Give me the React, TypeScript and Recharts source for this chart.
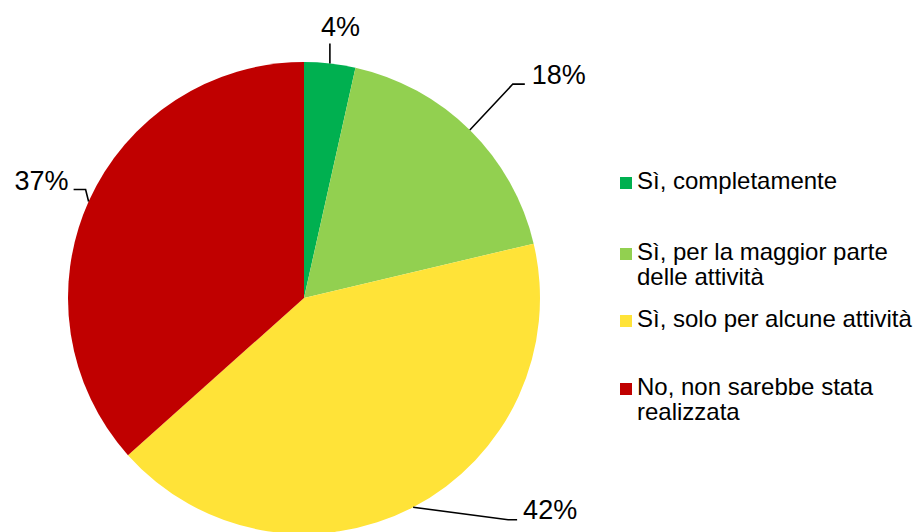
import { PieChart, Pie, Cell, Legend } from 'recharts'

const categories = [
  'Sì, completamente',
  'Sì, per la maggior parte delle attività',
  'Sì, solo per alcune attività',
  'No, non sarebbe stata realizzata',
]
const shares = [3.5, 17.8, 42.1, 36.6]
const colors = ['#00B050', '#92D050', '#FFE338', '#C00000']

// leader line bends (relative to the slice edge) and label placement
const leaders = [
  { pts: [[0, -20]], text: [-9, -27], anchor: 'start' },
  { pts: [[43, -46], [55, -46]], text: [62, -46], anchor: 'start' },
  { pts: [[95, 12.5], [104, 12.5]], text: [110, 12], anchor: 'start' },
  { pts: [[-3, -12], [-15, -12]], text: [-20, -12], anchor: 'end' },
]
const legendGaps = [0, 46, 17, 43]

const FONT = '"Liberation Sans", Arial, sans-serif'
const RADIAN = Math.PI / 180

const data = categories.map((name, i) => ({ name, value: shares[i] }))

function renderLabel(props: any) {
  const { cx, cy, midAngle, outerRadius, percent, index } = props
  const x0 = cx + outerRadius * Math.cos(-midAngle * RADIAN)
  const y0 = cy + outerRadius * Math.sin(-midAngle * RADIAN)
  const l = leaders[index]
  const d = `M${x0},${y0}` + l.pts.map(([dx, dy]) => `L${x0 + dx},${y0 + dy}`).join('')
  return (
    <g key={`lbl-${index}`}>
      <path d={d} stroke="#000" strokeWidth={1.6} fill="none" />
      <text
        x={x0 + l.text[0]}
        y={y0 + l.text[1]}
        textAnchor={l.anchor as any}
        fontSize={27}
        fontFamily={FONT}
        fill="#000"
      >
        {Math.round(percent * 100)}%
      </text>
    </g>
  )
}

function renderLegend(props: any) {
  // keep the slice order, not the alphabetical one
  const items = [...(props.payload || [])].sort(
    (a: any, b: any) => categories.indexOf(a.value) - categories.indexOf(b.value)
  )
  return (
    <div style={{ fontFamily: FONT, fontSize: 24, lineHeight: '25px', color: '#000' }}>
      {items.map((entry: any, i: number) => (
        <div key={i} style={{ position: 'relative', marginTop: legendGaps[i], paddingLeft: 18, width: 276 }}>
          <span
            style={{
              position: 'absolute',
              left: 1,
              top: 9,
              width: 12,
              height: 12,
              background: entry.color,
            }}
          />
          {entry.value}
        </div>
      ))}
    </div>
  )
}

export default function App() {
  return (
    <div style={{ width: 914, height: 532, background: '#fff' }}>
      <style>{'body{margin:0}'}</style>
      <PieChart width={914} height={532} margin={{ top: 0, right: 0, bottom: 0, left: 0 }}>
        <Pie
          data={data}
          dataKey="value"
          nameKey="name"
          cx={304}
          cy={298}
          outerRadius={236}
          startAngle={90}
          endAngle={-270}
          stroke="none"
          label={renderLabel}
          labelLine={false}
          isAnimationActive={false}
        >
          {data.map((_, i) => (
            <Cell key={i} fill={colors[i]} />
          ))}
        </Pie>
        <Legend
          layout="vertical"
          align="right"
          verticalAlign="top"
          content={renderLegend}
          wrapperStyle={{ position: 'absolute', left: 619, top: 168, width: 295 }}
        />
      </PieChart>
    </div>
  )
}
